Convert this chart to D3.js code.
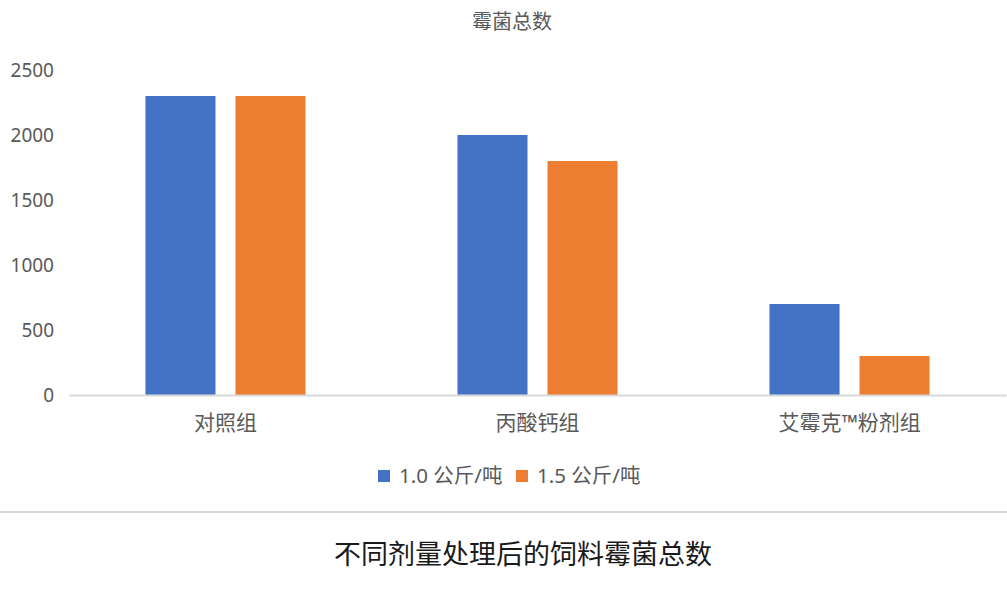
<!DOCTYPE html>
<html>
<head>
<meta charset="utf-8">
<script src="https://cdn.jsdelivr.net/npm/d3@7"></script>
<style>
  body { margin: 0; background: #fff; }
  svg text { font-family: "Noto Sans", "Noto Sans CJK SC", sans-serif; }
</style>
</head>
<body>
<div id="chart"></div>
<script>
// data
const categories = ["对照组", "丙酸钙组", "艾霉克™粉剂组"];
const seriesNames = ["1.0 公斤/吨", "1.5 公斤/吨"];
const dose10 = [2300, 2000, 700];
const dose15 = [2300, 1800, 300];
const yTicks = [0, 500, 1000, 1500, 2000, 2500];

const width = 1007, height = 595;
const margin = { top: 70, right: 1, bottom: 200, left: 69 };
const colors = ["#4472c4", "#ed7d31"];

const svg = d3.select("#chart").append("svg")
  .attr("width", width)
  .attr("height", height);

const x = d3.scaleBand()
  .domain(categories)
  .range([margin.left, width - margin.right])
  .paddingInner(0.487)
  .paddingOuter(0.245);

const x1 = d3.scaleBand()
  .domain(seriesNames)
  .range([0, x.bandwidth()])
  .paddingInner(0.222);

const y = d3.scaleLinear()
  .domain([0, 2500])
  .range([height - margin.bottom, margin.top]);

// chart title
svg.append("text")
  .attr("x", 512).attr("y", 22)
  .attr("dy", "0.35em")
  .attr("text-anchor", "middle")
  .attr("font-size", 20)
  .attr("fill", "#595959")
  .text("霉菌总数");

// y axis labels, no line
const yAxis = svg.append("g")
  .attr("transform", `translate(${margin.left - 15},0)`)
  .call(d3.axisLeft(y).tickValues(yTicks).tickFormat(d3.format("d")).tickSize(0).tickPadding(0));
yAxis.select(".domain").remove();
yAxis.selectAll("text")
  .attr("font-size", 19)
  .attr("fill", "#595959")
  .style("font-family", "'Noto Sans', sans-serif");

// bars
const rows = categories.map((c, i) => ({ cat: c, vals: [dose10[i], dose15[i]] }));
svg.append("g").selectAll("g")
  .data(rows)
  .join("g")
  .attr("transform", d => `translate(${x(d.cat)},0)`)
  .selectAll("rect")
  .data(d => d.vals.map((v, j) => ({ key: seriesNames[j], v, j })))
  .join("rect")
  .attr("x", d => x1(d.key))
  .attr("y", d => y(d.v))
  .attr("width", x1.bandwidth())
  .attr("height", d => y(0) - y(d.v))
  .attr("fill", d => colors[d.j]);

// x axis
const xAxis = svg.append("g")
  .attr("transform", `translate(0,${y(0)})`)
  .call(d3.axisBottom(x).tickSize(0).tickPadding(0));
xAxis.select(".domain")
  .attr("stroke", "#d9d9d9")
  .attr("stroke-width", 2);
xAxis.selectAll("text")
  .attr("y", 28)
  .attr("dy", "0.35em")
  .attr("font-size", 21)
  .attr("fill", "#595959");

// legend
const legendX = [378, 516];
const legend = svg.append("g").selectAll("g")
  .data(seriesNames)
  .join("g")
  .attr("transform", (d, i) => `translate(${legendX[i]},470)`);
legend.append("rect")
  .attr("width", 12).attr("height", 12)
  .attr("fill", (d, i) => colors[i]);
legend.append("text")
  .attr("x", 21).attr("y", 6)
  .attr("dy", "0.35em")
  .attr("font-size", 20.5)
  .attr("fill", "#595959")
  .text(d => d);

// separator line
svg.append("line")
  .attr("x1", 0).attr("x2", width)
  .attr("y1", 512).attr("y2", 512)
  .attr("stroke", "#d9d9d9")
  .attr("stroke-width", 2);

// caption below
svg.append("text")
  .attr("x", 523).attr("y", 555)
  .attr("dy", "0.35em")
  .attr("text-anchor", "middle")
  .attr("font-size", 27)
  .attr("fill", "#1a1a1a")
  .text("不同剂量处理后的饲料霉菌总数");
</script>
</body>
</html>
